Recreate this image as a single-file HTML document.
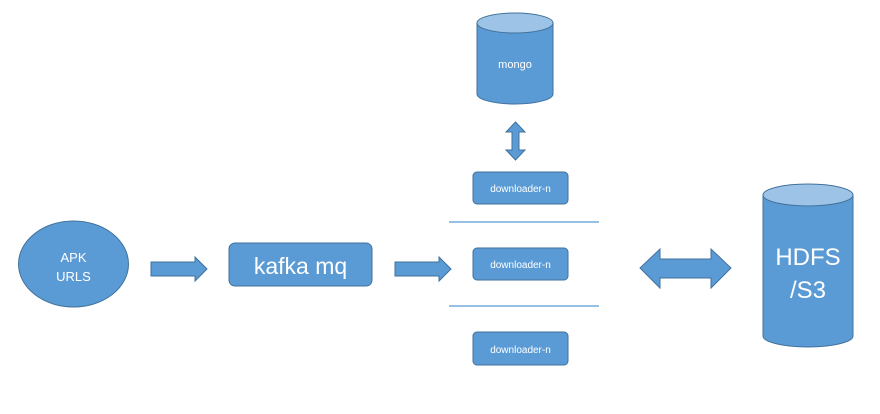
<!DOCTYPE html>
<html><head><meta charset="utf-8"><style>body{margin:0;background:#fff}svg{display:block}</style></head>
<body>
<svg width="880" height="414" viewBox="0 0 880 414" xmlns="http://www.w3.org/2000/svg" font-family="Liberation Sans, DejaVu Sans, sans-serif">
<g fill="#5b9bd5" stroke="#41719c" stroke-width="1">
<ellipse cx="73.5" cy="264" rx="55" ry="43"/>
<polygon points="151,262 195,262 195,257 207,269 195,281 195,276 151,276"/>
<rect x="229" y="243" width="143" height="43" rx="6"/>
<polygon points="395,262 439,262 439,257 451,269 439,281 439,276 395,276"/>
<path d="M477,23 L477,94 A38,10 0 0 0 553,94 L553,23"/>
<polygon points="515.5,122 525,132 519,132 519,150 525,150 515.5,160 506,150 512,150 512,132 506,132"/>
<rect x="473" y="172" width="95" height="32" rx="4"/>
<rect x="473" y="248" width="95" height="32" rx="4"/>
<rect x="473" y="332" width="95" height="33" rx="4"/>
<polygon points="640,268 660,249 660,259 711,259 711,249 731,268 711,288 711,278 660,278 660,288"/>
<path d="M763,195 L763,336 A45,11 0 0 0 853,336 L853,195"/>
</g>
<g fill="#9dc3e6" stroke="#41719c">
<ellipse cx="515" cy="23" rx="38" ry="10"/>
<ellipse cx="808" cy="195" rx="45" ry="11"/>
</g>
<g stroke="#5b9bd5" stroke-width="1.3">
<line x1="449" y1="222" x2="599" y2="222"/>
<line x1="449" y1="306" x2="599" y2="306"/>
</g>
<g fill="#fff" text-anchor="middle">
<text x="73.5" y="262" font-size="13">APK</text>
<text x="73.5" y="281" font-size="13">URLS</text>
<text x="300.5" y="274" font-size="23">kafka mq</text>
<text x="515" y="68" font-size="11">mongo</text>
<text x="520.5" y="192" font-size="10">downloader-n</text>
<text x="520.5" y="268" font-size="10">downloader-n</text>
<text x="520.5" y="353" font-size="10">downloader-n</text>
<text x="808" y="265" font-size="24">HDFS</text>
<text x="808" y="298" font-size="24">/S3</text>
</g>
</svg>
</body></html>
